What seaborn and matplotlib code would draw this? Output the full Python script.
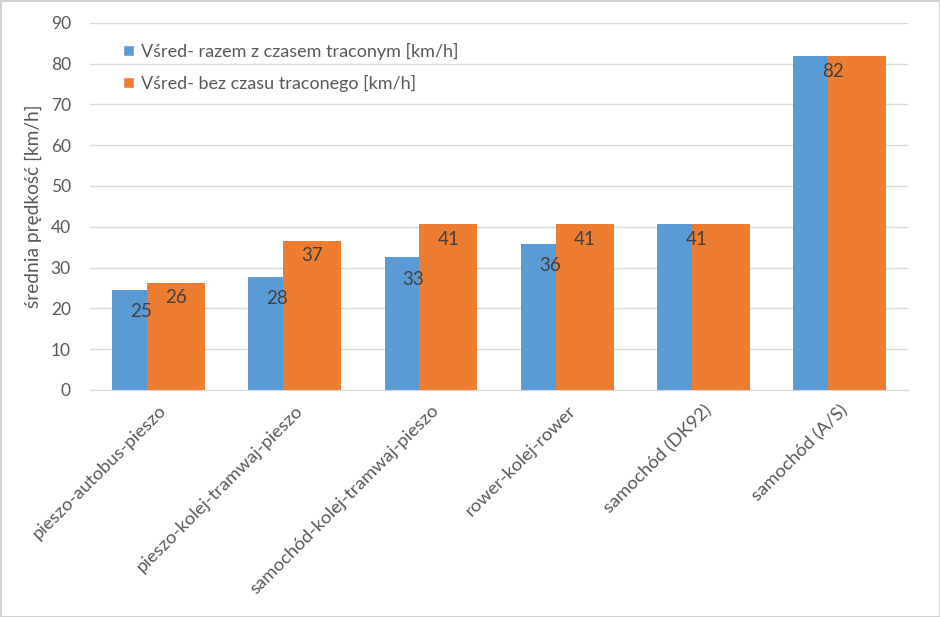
import pandas as pd
import seaborn as sns
import matplotlib.pyplot as plt

# data
trasy = ['pieszo-autobus-pieszo', 'pieszo-kolej-tramwaj-pieszo', 'samochód-kolej-tramwaj-pieszo',
         'rower-kolej-rower', 'samochód (DK92)', 'samochód (A/S)']
v_razem = [24.6, 27.8, 32.6, 35.9, 40.7, 81.8]
v_bez = [26.3, 36.6, 40.7, 40.7, 40.7, 81.8]
seria = ['Vśred- razem z czasem traconym [km/h]', 'Vśred- bez czasu traconego [km/h]']
kolory = ['#5B9BD5', '#ED7D31']

df = pd.DataFrame({'trasa': trasy * 2,
                   'v': v_razem + v_bez,
                   'seria': [seria[0]] * len(trasy) + [seria[1]] * len(trasy)})

sns.set_style('white')
plt.rcParams['font.family'] = ['Lato', 'DejaVu Sans']
txt = '#595959'

fig, ax = plt.subplots(figsize=(9.4, 6.17), dpi=100)
fig.subplots_adjust(left=0.096, right=0.966, top=0.963, bottom=0.368)

sns.barplot(data=df, x='trasa', y='v', hue='seria', palette=kolory, width=0.852,
            saturation=1, ax=ax, errorbar=None)

# excel-like overlap: pull the two bars of each group together
przes = 0.085
for i, cont in enumerate(ax.containers):
    for bar in cont:
        bar.set_x(bar.get_x() + (przes if i == 0 else -przes))
        bar.set_linewidth(0)

# data labels inside bar ends
lab_blue = [str(round(a)) if round(a) != round(b) else '' for a, b in zip(v_razem, v_bez)]
lab_orange = [str(round(b)) if round(a) != round(b) else '' for a, b in zip(v_razem, v_bez)]
ax.bar_label(ax.containers[0], labels=lab_blue, padding=-22, fontsize=13.5, color='#404040')
ax.bar_label(ax.containers[1], labels=lab_orange, padding=-17, fontsize=13.5, color='#404040')
for i, (a, b) in enumerate(zip(v_razem, v_bez)):
    if round(a) == round(b):
        ax.annotate(str(round(b)), (i - 0.05, b), xytext=(0, -17), textcoords='offset points',
                    ha='center', va='bottom', fontsize=13.5, color='#404040')

ax.set_ylim(0, 90)
ax.set_xlim(-0.5, len(trasy) - 0.5)
ax.set_yticks(range(0, 91, 10))
ax.yaxis.grid(True, color='#D9D9D9', linewidth=1)
ax.set_axisbelow(True)
for s in ['top', 'right', 'left']:
    ax.spines[s].set_visible(False)
ax.spines['bottom'].set_color('#D9D9D9')
ax.tick_params(axis='both', length=0, labelsize=12.5, labelcolor=txt)
ax.tick_params(axis='y', pad=14)
ax.tick_params(axis='x', pad=9)
ax.set_xticks(range(len(trasy)))
ax.set_xticklabels(trasy, rotation=45, ha='right', rotation_mode='anchor', fontsize=13.3)
ax.set_xlabel('')
ax.set_ylabel('średnia prędkość [km/h]', fontsize=13.8, color=txt, labelpad=6)

ax.legend(loc='upper left', bbox_to_anchor=(0.02, 0.99), frameon=False, fontsize=13,
          handlelength=0.6, handleheight=0.6, handletextpad=0.4, labelspacing=0.85,
          labelcolor=txt)

fig.patch.set_edgecolor('#D0D0D0')
fig.patch.set_linewidth(2)
fig.savefig('out.png', dpi=100, edgecolor=fig.get_edgecolor())
